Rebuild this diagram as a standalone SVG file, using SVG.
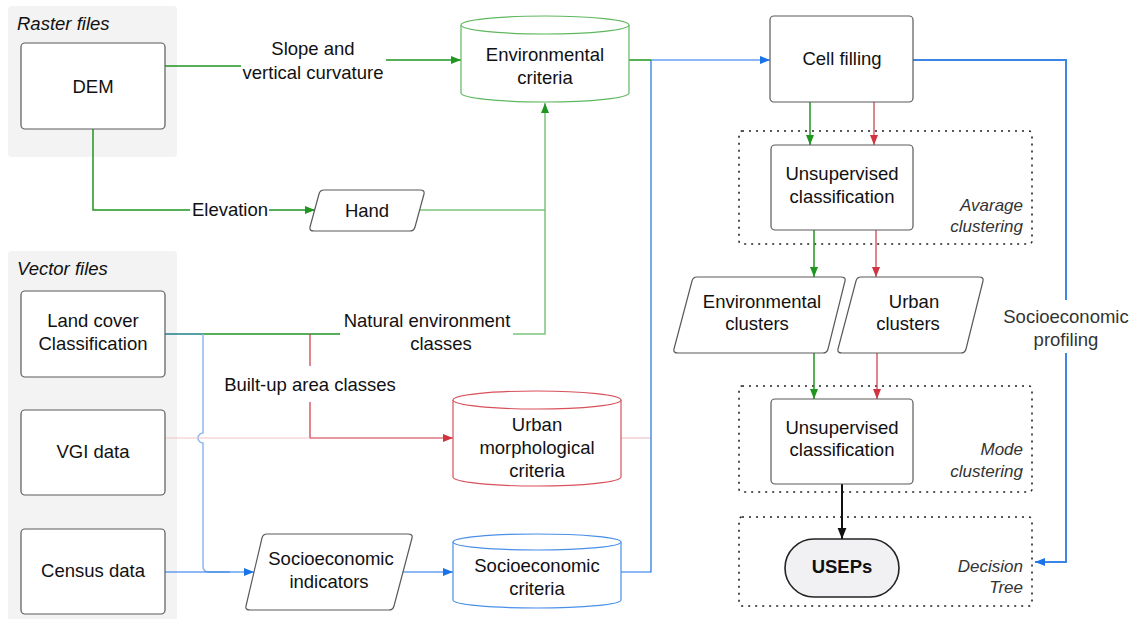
<svg xmlns="http://www.w3.org/2000/svg" width="1136" height="619" viewBox="0 0 1136 619">
<style>
text{font-family:"Liberation Sans",Arial,sans-serif;font-size:18.5px;fill:#111;text-anchor:middle;dominant-baseline:central}
.grp{fill:#f3f3f3;stroke:none}
.gl{font-style:italic;text-anchor:start}
.it{font-style:italic;font-size:17px;fill:#333;text-anchor:end}
.box{fill:#fff;stroke:#5a5a5a;stroke-width:1.2}
.dot{fill:none;stroke:#222;stroke-width:1.6;stroke-dasharray:2 5}
.c{fill:none}
.g{stroke:#1f961f;stroke-width:1.5}
.lg{stroke:#7cc47c;stroke-width:1.5}
.r{stroke:#cf3440;stroke-width:1.2}
.pr{stroke:#f0c4c8;stroke-width:1.2}
.b{stroke:#1a73e8;stroke-width:1.2}
.lb{stroke:#8db8ef;stroke-width:1.5}
.bb{stroke:#3d86e6;stroke-width:2}
.k{stroke:#111;stroke-width:2}
</style>
<defs>
<marker id="ag" viewBox="0 0 10 10" refX="10" refY="5" markerWidth="10" markerHeight="10" markerUnits="userSpaceOnUse" orient="auto"><path d="M0,1L10,5L0,9z" fill="#1f961f"/></marker>
<marker id="ar" viewBox="0 0 10 10" refX="10" refY="5" markerWidth="10" markerHeight="10" markerUnits="userSpaceOnUse" orient="auto"><path d="M0,1L10,5L0,9z" fill="#cf3440"/></marker>
<marker id="ab" viewBox="0 0 10 10" refX="10" refY="5" markerWidth="10" markerHeight="10" markerUnits="userSpaceOnUse" orient="auto"><path d="M0,1L10,5L0,9z" fill="#1a73e8"/></marker>
<marker id="ak" viewBox="0 0 10 10" refX="10" refY="5" markerWidth="11" markerHeight="11" markerUnits="userSpaceOnUse" orient="auto"><path d="M0,1L10,5L0,9z" fill="#111"/></marker>
</defs>

<g id="raster-group"><rect class="grp" x="8" y="6" width="169" height="151" rx="4"/><text class="gl" x="17" y="23">Raster files</text></g>
<g id="vector-group"><rect class="grp" x="8" y="251" width="169" height="372" rx="4"/><text class="gl" x="17" y="268">Vector files</text></g>
<g id="avg-group"><rect class="dot" x="739" y="131" width="293" height="113" rx="3"/><text class="it" x="1023" y="205">Avarage</text><text class="it" x="1023" y="226">clustering</text></g>
<g id="mode-group"><rect class="dot" x="739" y="386" width="293" height="106" rx="3"/><text class="it" x="1023" y="449">Mode</text><text class="it" x="1023" y="471">clustering</text></g>
<g id="tree-group"><rect class="dot" x="739" y="517" width="293" height="89" rx="3"/><text class="it" x="1023" y="566">Decision</text><text class="it" x="1023" y="587">Tree</text></g>

<g id="connectors">
<path class="c g" d="M165,66H241"/>
<path class="c g" d="M386,60H461" marker-end="url(#ag)"/>
<path class="c g" d="M93,129V210H190"/>
<path class="c g" d="M269,210H315" marker-end="url(#ag)"/>
<path class="c lg" d="M419,210H545V103" marker-end="url(#ag)"/>
<path class="c g" d="M203,334H340"/>
<path class="c lg" d="M513,334H545V210"/>
<path class="c" stroke="#1e7f8a" stroke-width="1.5" d="M165,334H203"/>
<path class="c lb" d="M203,334V433A5,5 0 0 0 203,443V566Q203,572 209,572H230"/>
<path class="c b" d="M165,572H254" marker-end="url(#ab)"/>
<path class="c r" d="M310,334V366"/>
<path class="c r" d="M310,402V438H453" marker-end="url(#ar)"/>
<path class="c pr" d="M165,438H310"/>
<path class="c pr" d="M621,438H651"/>
<path class="c b" d="M402,572H453" marker-end="url(#ab)"/>
<path class="c b" d="M621,572H651V60"/>
<path class="c g" stroke-width="1.2" d="M629,60H651"/>
<path class="c b" d="M651,60H770" marker-end="url(#ab)"/>
<path class="c bb" d="M913,60H1066V300"/>
<path class="c bb" d="M1066,353V562H1035" marker-end="url(#ab)"/>
<path class="c g" stroke-width="1.2" d="M810,102V145" marker-end="url(#ag)"/>
<path class="c r" d="M874,102V145" marker-end="url(#ar)"/>
<path class="c g" stroke-width="1.2" d="M814,230V277" marker-end="url(#ag)"/>
<path class="c r" d="M876,230V277" marker-end="url(#ar)"/>
<path class="c g" stroke-width="1.2" d="M814,353V399" marker-end="url(#ag)"/>
<path class="c r" d="M877,353V399" marker-end="url(#ar)"/>
<path class="c k" d="M842,484V539" marker-end="url(#ak)"/>
<text x="313" y="48">Slope and</text>
<text x="313" y="72">vertical curvature</text>
<text x="230" y="209">Elevation</text>
<text x="427" y="320">Natural environment</text>
<text x="441" y="343">classes</text>
<text x="310" y="384">Built-up area classes</text>
<text x="1066" y="316" style="fill:#333">Socioeconomic</text>
<text x="1066" y="339" style="fill:#333">profiling</text>
</g>

<g id="dem"><rect class="box" x="21" y="43" width="144" height="86" rx="4"/><text x="93" y="86">DEM</text></g>
<g id="landcover"><rect class="box" x="21" y="291" width="144" height="86" rx="4"/><text x="93" y="320">Land cover</text><text x="93" y="343">Classification</text></g>
<g id="vgi"><rect class="box" x="21" y="410" width="144" height="85" rx="4"/><text x="93" y="451">VGI data</text></g>
<g id="census"><rect class="box" x="21" y="529" width="144" height="85" rx="4"/><text x="93" y="570">Census data</text></g>
<g id="hand"><path class="box" stroke-linejoin="round" d="M324,190H420Q425,190 424,194L415,227Q414,231 410,231H314Q309,231 310,227L319,194Q320,190 324,190Z"/><text x="367" y="210">Hand</text></g>
<g id="env-criteria"><path d="M461,25V93A84,9 0 0 0 629,93V25" fill="#fff" stroke="#5fb85f" stroke-width="1.2"/><ellipse cx="545" cy="25" rx="84" ry="9" fill="#fff" stroke="#5fb85f" stroke-width="1.2"/><text x="545" y="54">Environmental</text><text x="545" y="77">criteria</text></g>
<g id="urban-criteria"><path d="M453,400V477A84,9 0 0 0 621,477V400" fill="#fff" stroke="#d8515b" stroke-width="1.2"/><ellipse cx="537" cy="400" rx="84" ry="9" fill="#fff" stroke="#d8515b" stroke-width="1.2"/><text x="537" y="424">Urban</text><text x="537" y="447">morphological</text><text x="537" y="470">criteria</text></g>
<g id="socio-indicators"><path class="box" stroke-linejoin="round" d="M267,534H408Q413,534 412,538L394,606Q393,610 389,610H250Q245,610 246,606L262,538Q263,534 267,534Z"/><text x="331" y="558">Socioeconomic</text><text x="329" y="581">indicators</text></g>
<g id="socio-criteria"><path d="M453,542V600A84,8 0 0 0 621,600V542" fill="#fff" stroke="#4a90e8" stroke-width="1.2"/><ellipse cx="537" cy="542" rx="84" ry="8" fill="#fff" stroke="#4a90e8" stroke-width="1.2"/><text x="537" y="565">Socioeconomic</text><text x="537" y="588">criteria</text></g>
<g id="cell-filling"><rect class="box" x="770" y="16" width="143" height="86" rx="4"/><text x="842" y="58">Cell filling</text></g>
<g id="unsup1"><rect class="box" x="771" y="145" width="142" height="85" rx="4"/><text x="842" y="173">Unsupervised</text><text x="842" y="196">classification</text></g>
<g id="env-clusters"><path class="box" stroke-linejoin="round" d="M697,277H841Q846,277 845,281L828,349Q827,353 823,353H678Q673,353 674,349L692,281Q693,277 697,277Z"/><text x="762" y="301">Environmental</text><text x="757" y="323">clusters</text></g>
<g id="urban-clusters"><path class="box" stroke-linejoin="round" d="M861,277H979Q984,277 983,281L966,349Q965,353 961,353H842Q837,353 838,349L856,281Q857,277 861,277Z"/><text x="914" y="301">Urban</text><text x="908" y="323">clusters</text></g>
<g id="unsup2"><rect class="box" x="771" y="399" width="142" height="85" rx="4"/><text x="842" y="427">Unsupervised</text><text x="842" y="449">classification</text></g>
<g id="useps"><rect x="785" y="539" width="114" height="58" rx="29" fill="#f1f1f3" stroke="#222" stroke-width="1.6"/><text x="842" y="566" font-weight="bold">USEPs</text></g>
</svg>
